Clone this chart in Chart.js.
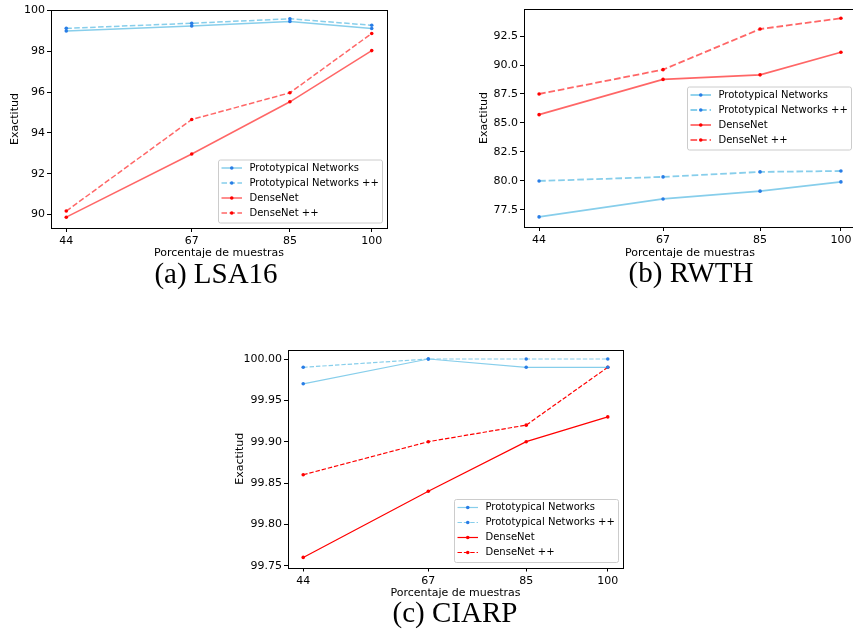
<!DOCTYPE html>
<html><head><meta charset="utf-8">
<script src="https://cdn.jsdelivr.net/npm/chart.js@4"></script>
<style>
html,body{margin:0;padding:0;background:#fff;overflow:hidden;width:853px;height:630px;position:relative;}
canvas{position:absolute;}
.cap{position:absolute;font-family:"Liberation Serif",serif;font-size:29px;line-height:30px;white-space:nowrap;color:#000;transform:translateX(-50%);}
</style></head><body>
<canvas id="cA" width="400" height="260" style="left:0px;top:0px"></canvas>
<canvas id="cB" width="420" height="260" style="left:440px;top:0px"></canvas>
<canvas id="cC" width="420" height="260" style="left:220px;top:340px"></canvas>
<div class="cap" style="left:216px;top:258px">(a) LSA16</div>
<div class="cap" style="left:691px;top:257px">(b) RWTH</div>
<div class="cap" style="left:455px;top:597px">(c) CIARP</div>
<script>
// ---- data ----
const samplePercent = [44, 67, 85, 100];
const seriesNames = ['Prototypical Networks', 'Prototypical Networks ++', 'DenseNet', 'DenseNet ++'];

const lsa16ProtoNet   = [99.00, 99.25, 99.47, 99.12];
const lsa16ProtoNetPP = [99.13, 99.38, 99.60, 99.28];
const lsa16DenseNet   = [89.87, 92.97, 95.53, 98.04];
const lsa16DenseNetPP = [90.17, 94.66, 95.97, 98.88];

const rwthProtoNet    = [76.90, 78.45, 79.12, 79.92];
const rwthProtoNetPP  = [80.00, 80.35, 80.78, 80.86];
const rwthDenseNet    = [85.72, 88.76, 89.15, 91.10];
const rwthDenseNetPP  = [87.50, 89.60, 93.10, 94.03];

const ciarpProtoNet   = [99.97, 100.00, 99.99, 99.99];
const ciarpProtoNetPP = [99.99, 100.00, 100.00, 100.00];
const ciarpDenseNet   = [99.76, 99.84, 99.90, 99.93];
const ciarpDenseNetPP = [99.86, 99.90, 99.92, 99.99];

const xTickValues = [44, 67, 85, 100];
const lsa16YTicks = [90, 92, 94, 96, 98, 100];
const rwthYTicks  = [77.5, 80.0, 82.5, 85.0, 87.5, 90.0, 92.5];
const ciarpYTicks = [99.75, 99.80, 99.85, 99.90, 99.95, 100.00];

const xLabel = 'Porcentaje de muestras';
const yLabel = 'Exactitud';

// ---- rendering ----
Chart.defaults.font.family = '"DejaVu Sans", sans-serif';
Chart.defaults.color = '#000';

const framePlugin = {
  id: 'frame',
  afterDraw(chart) {
    const {ctx, chartArea: ca} = chart;
    const l = Math.round(ca.left), t = Math.round(ca.top), r = Math.round(ca.right), b = Math.round(ca.bottom);
    ctx.save();
    ctx.strokeStyle = '#000'; ctx.lineWidth = 1;
    ctx.strokeRect(l + 0.5, t + 0.5, r - l, b - t);
    ctx.restore();
  }
};

const boxLegend = {
  id: 'boxLegend',
  afterDatasetsDraw(chart, args, opts) {
    const ctx = chart.ctx, ca = chart.chartArea;
    const w = 164, h = 63;
    const x = ca.right - 5 - w;
    const y = opts.loc === 'center right' ? (ca.top + ca.bottom) / 2 - h / 2 : ca.bottom - 5.5 - h;
    ctx.save();
    ctx.beginPath();
    if (ctx.roundRect) ctx.roundRect(x + 0.5, y + 0.5, w, h, 2); else ctx.rect(x + 0.5, y + 0.5, w, h);
    ctx.fillStyle = 'rgba(255,255,255,0.8)';
    ctx.fill();
    ctx.strokeStyle = '#cccccc'; ctx.lineWidth = 1;
    ctx.stroke();
    chart.data.datasets.forEach((ds, i) => {
      const ry = y + 8.5 + i * 15;
      ctx.beginPath();
      ctx.setLineDash(ds.borderDash || []);
      ctx.strokeStyle = ds.borderColor; ctx.lineWidth = ds.borderWidth;
      ctx.moveTo(x + 3.5, ry); ctx.lineTo(x + 24, ry); ctx.stroke();
      ctx.setLineDash([]);
      ctx.beginPath();
      ctx.fillStyle = ds.pointBackgroundColor;
      ctx.arc(x + 13.75, ry, ds.pointRadius, 0, Math.PI * 2);
      ctx.fill();
      ctx.fillStyle = '#000';
      ctx.font = '10px "DejaVu Sans"';
      ctx.textBaseline = 'middle';
      ctx.textAlign = 'left';
      ctx.fillText(ds.label, x + 31.5, ry);
    });
    ctx.restore();
  }
};

function makeChart(id, L, series, yTicks, decimals, yMin, yMax, st, legendLoc) {
  const blue = '#87CEEB', blueMk = 'rgb(40,125,230)', redMk = 'rgb(255,0,0)';
  const dash = [3.7 * st.lw, 1.6 * st.lw];
  const lineColors = [blue, blue, st.red, st.red];
  const mkColors = [blueMk, blueMk, redMk, redMk];
  const dashes = [[], dash, [], dash];
  const datasets = series.map((vals, i) => ({
    label: seriesNames[i],
    data: samplePercent.map((x, j) => ({x: x, y: vals[j]})),
    borderColor: lineColors[i],
    borderWidth: st.lw,
    borderDash: dashes[i],
    pointRadius: 1.8,
    pointBorderWidth: 0,
    pointBackgroundColor: mkColors[i],
    pointBorderColor: mkColors[i],
    tension: 0,
    fill: false
  }));
  return new Chart(document.getElementById(id), {
    type: 'line',
    data: {datasets},
    plugins: [boxLegend, framePlugin],
    options: {
      responsive: false, animation: false, devicePixelRatio: 1,
      layout: {padding: {left: L.pl, top: L.pt, right: L.pr, bottom: 0}},
      plugins: {legend: {display: false}, tooltip: {enabled: false}, boxLegend: {loc: legendLoc}},
      scales: {
        x: {
          type: 'linear', min: 41.2, max: 102.8,
          afterBuildTicks: s => { s.ticks = xTickValues.map(v => ({value: v})); },
          afterFit: s => { s.height = L.xh; },
          ticks: {autoSkip: false, maxRotation: 0, padding: 3, color: '#000', font: {size: 11}, callback: v => String(v)},
          grid: {display: true, drawOnChartArea: false, drawTicks: true, tickLength: 4, color: '#000', lineWidth: 1},
          border: {display: false},
          title: {display: true, text: xLabel, color: '#000', font: {size: 11}, padding: 0}
        },
        y: {
          type: 'linear', min: yMin, max: yMax,
          afterBuildTicks: s => { s.ticks = yTicks.map(v => ({value: v})); },
          afterFit: s => { s.width = L.yw; },
          ticks: {autoSkip: false, padding: 2, color: '#000', font: {size: 11}, callback: v => Number(v).toFixed(decimals)},
          grid: {display: true, drawOnChartArea: false, drawTicks: true, tickLength: 4, color: '#000', lineWidth: 1},
          border: {display: false},
          title: {display: true, text: yLabel, color: '#000', font: {size: 11}, padding: 0}
        }
      }
    }
  });
}

makeChart('cA', {pl: 9, pt: 10, pr: 13, yw: 42, xh: 32},
  [lsa16ProtoNet, lsa16ProtoNetPP, lsa16DenseNet, lsa16DenseNetPP], lsa16YTicks, 0, 89.34, 100.03,
  {lw: 1.5, red: 'rgba(255,0,0,0.6)'}, 'lower right');
makeChart('cB', {pl: 37.3, pt: 9, pr: 1, yw: 46.7, xh: 33},
  [rwthProtoNet, rwthProtoNetPP, rwthDenseNet, rwthDenseNetPP], rwthYTicks, 1, 76.03, 94.83,
  {lw: 1.8, red: 'rgba(255,0,0,0.6)'}, 'center right');
makeChart('cC', {pl: 13.3, pt: 10, pr: 17, yw: 54.7, xh: 32.5},
  [ciarpProtoNet, ciarpProtoNetPP, ciarpDenseNet, ciarpDenseNetPP], ciarpYTicks, 2, 99.7478, 100.0109,
  {lw: 1.2, red: 'rgb(255,0,0)'}, 'lower right');
</script>
</body></html>
